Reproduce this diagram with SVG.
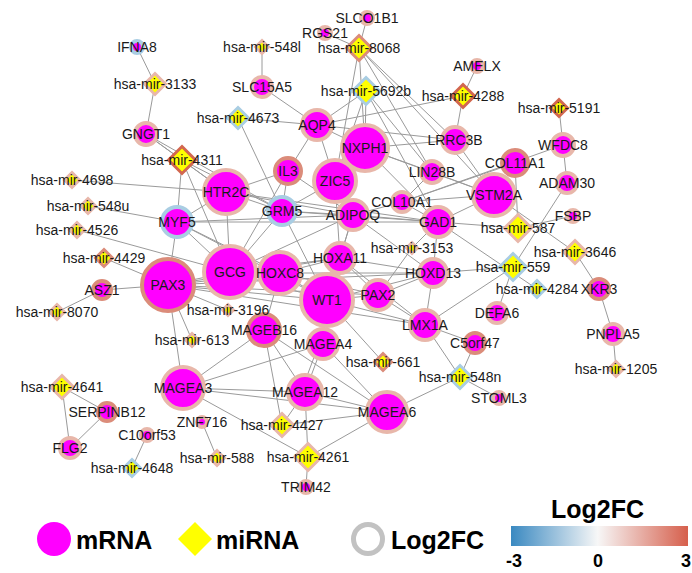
<svg xmlns="http://www.w3.org/2000/svg" width="692" height="573" viewBox="0 0 692 573">
<defs>
<style>
.e line{stroke:#9a9a9a;stroke-width:1}
.m{fill:#ff00ff;stroke-width:4}
.r{fill:#ffff00;stroke-width:3}
.bp{stroke:#e8b7aa}
.bs{stroke:#db8c7a}
.bd{stroke:#d2674f}
.bb{stroke:#a9cde3}
text{font-family:"Liberation Sans",Arial,sans-serif;font-size:14px;fill:#1a1a1a;text-anchor:middle}
.lg{font-size:25px;font-weight:bold;fill:#000;text-anchor:start}
.tk{font-size:18px;font-weight:bold;fill:#000}
</style>
<linearGradient id="grad" x1="0" y1="0" x2="1" y2="0">
<stop offset="0" stop-color="#3a89c1"/>
<stop offset="0.49" stop-color="#f7f7f7"/>
<stop offset="1" stop-color="#d65f4c"/>
</linearGradient>
</defs>
<rect width="692" height="573" fill="#fff"/>
<g id="edges" class="e">
<line x1="137" y1="47" x2="155" y2="84"/>
<line x1="155" y1="84" x2="146" y2="134"/>
<line x1="262" y1="47" x2="262" y2="87"/>
<line x1="262" y1="87" x2="317" y2="125"/>
<line x1="325" y1="33" x2="359" y2="48"/>
<line x1="367" y1="18" x2="359" y2="48"/>
<line x1="477" y1="66" x2="463" y2="96"/>
<line x1="559" y1="108" x2="563" y2="145"/>
<line x1="563" y1="145" x2="567" y2="183"/>
<line x1="402" y1="202" x2="563" y2="145"/>
<line x1="567" y1="183" x2="513" y2="267"/>
<line x1="515" y1="163" x2="518" y2="228"/>
<line x1="518" y1="228" x2="573" y2="216"/>
<line x1="494" y1="195" x2="575" y2="252"/>
<line x1="575" y1="252" x2="599" y2="289"/>
<line x1="599" y1="289" x2="613" y2="334"/>
<line x1="613" y1="334" x2="616" y2="369"/>
<line x1="513" y1="267" x2="433" y2="273"/>
<line x1="513" y1="267" x2="497" y2="313"/>
<line x1="513" y1="267" x2="425" y2="325"/>
<line x1="438" y1="222" x2="537" y2="289"/>
<line x1="438" y1="222" x2="518" y2="228"/>
<line x1="460" y1="377" x2="499" y2="398"/>
<line x1="460" y1="377" x2="387" y2="412"/>
<line x1="460" y1="377" x2="475" y2="343"/>
<line x1="460" y1="377" x2="425" y2="325"/>
<line x1="62" y1="387" x2="107" y2="412"/>
<line x1="62" y1="387" x2="70" y2="448"/>
<line x1="107" y1="412" x2="70" y2="448"/>
<line x1="147" y1="435" x2="132" y2="468"/>
<line x1="202" y1="422" x2="217" y2="458"/>
<line x1="308" y1="457" x2="306" y2="487"/>
<line x1="57" y1="312" x2="102" y2="290"/>
<line x1="102" y1="290" x2="168" y2="285"/>
<line x1="168" y1="285" x2="183" y2="388"/>
<line x1="183" y1="388" x2="264" y2="330"/>
<line x1="183" y1="388" x2="323" y2="344"/>
<line x1="183" y1="388" x2="305" y2="392"/>
<line x1="183" y1="388" x2="387" y2="412"/>
<line x1="183" y1="388" x2="308" y2="457"/>
<line x1="308" y1="457" x2="387" y2="412"/>
<line x1="308" y1="457" x2="305" y2="392"/>
<line x1="282" y1="425" x2="305" y2="392"/>
<line x1="282" y1="425" x2="387" y2="412"/>
<line x1="282" y1="425" x2="264" y2="330"/>
<line x1="323" y1="344" x2="387" y2="412"/>
<line x1="323" y1="344" x2="305" y2="392"/>
<line x1="319" y1="344" x2="301" y2="392"/>
<line x1="264" y1="330" x2="387" y2="412"/>
<line x1="264" y1="330" x2="305" y2="392"/>
<line x1="305" y1="392" x2="387" y2="412"/>
<line x1="327" y1="300" x2="383" y2="362"/>
<line x1="182" y1="160" x2="146" y2="134"/>
<line x1="146" y1="134" x2="226" y2="192"/>
<line x1="146" y1="134" x2="282" y2="211"/>
<line x1="182" y1="160" x2="226" y2="192"/>
<line x1="182" y1="160" x2="282" y2="211"/>
<line x1="182" y1="160" x2="177" y2="222"/>
<line x1="182" y1="160" x2="230" y2="272"/>
<line x1="72" y1="180" x2="226" y2="192"/>
<line x1="88" y1="206" x2="177" y2="222"/>
<line x1="77" y1="230" x2="230" y2="272"/>
<line x1="104" y1="258" x2="168" y2="285"/>
<line x1="238" y1="118" x2="317" y2="125"/>
<line x1="238" y1="118" x2="282" y2="211"/>
<line x1="359" y1="48" x2="365" y2="148"/>
<line x1="359" y1="48" x2="335" y2="181"/>
<line x1="359" y1="48" x2="432" y2="172"/>
<line x1="359" y1="48" x2="455" y2="140"/>
<line x1="359" y1="48" x2="494" y2="195"/>
<line x1="366" y1="91" x2="317" y2="125"/>
<line x1="366" y1="91" x2="365" y2="148"/>
<line x1="366" y1="91" x2="432" y2="172"/>
<line x1="366" y1="91" x2="335" y2="181"/>
<line x1="366" y1="91" x2="438" y2="222"/>
<line x1="463" y1="96" x2="317" y2="125"/>
<line x1="463" y1="96" x2="455" y2="140"/>
<line x1="317" y1="125" x2="288" y2="171"/>
<line x1="317" y1="125" x2="335" y2="181"/>
<line x1="317" y1="125" x2="365" y2="148"/>
<line x1="317" y1="125" x2="455" y2="140"/>
<line x1="365" y1="148" x2="432" y2="172"/>
<line x1="365" y1="148" x2="455" y2="140"/>
<line x1="365" y1="148" x2="494" y2="195"/>
<line x1="365" y1="148" x2="438" y2="222"/>
<line x1="455" y1="140" x2="494" y2="195"/>
<line x1="432" y1="172" x2="494" y2="195"/>
<line x1="432" y1="172" x2="402" y2="202"/>
<line x1="288" y1="171" x2="226" y2="192"/>
<line x1="288" y1="171" x2="282" y2="211"/>
<line x1="288" y1="171" x2="230" y2="272"/>
<line x1="288" y1="171" x2="353" y2="215"/>
<line x1="335" y1="181" x2="282" y2="211"/>
<line x1="335" y1="181" x2="353" y2="215"/>
<line x1="335" y1="181" x2="340" y2="258"/>
<line x1="226" y1="192" x2="282" y2="211"/>
<line x1="226" y1="192" x2="177" y2="222"/>
<line x1="226" y1="192" x2="230" y2="272"/>
<line x1="226" y1="192" x2="353" y2="215"/>
<line x1="226" y1="192" x2="438" y2="222"/>
<line x1="282" y1="211" x2="438" y2="222"/>
<line x1="282" y1="211" x2="353" y2="215"/>
<line x1="282" y1="211" x2="230" y2="272"/>
<line x1="282" y1="211" x2="327" y2="300"/>
<line x1="177" y1="222" x2="230" y2="272"/>
<line x1="177" y1="222" x2="168" y2="285"/>
<line x1="177" y1="222" x2="280" y2="273"/>
<line x1="177" y1="222" x2="327" y2="300"/>
<line x1="177" y1="222" x2="353" y2="215"/>
<line x1="177" y1="222" x2="438" y2="222"/>
<line x1="230" y1="272" x2="168" y2="285"/>
<line x1="230" y1="272" x2="280" y2="273"/>
<line x1="230" y1="272" x2="327" y2="300"/>
<line x1="230" y1="272" x2="353" y2="215"/>
<line x1="230" y1="272" x2="340" y2="258"/>
<line x1="168" y1="285" x2="280" y2="273"/>
<line x1="168" y1="285" x2="327" y2="300"/>
<line x1="168" y1="285" x2="378" y2="295"/>
<line x1="168" y1="285" x2="340" y2="258"/>
<line x1="168" y1="285" x2="425" y2="325"/>
<line x1="168" y1="285" x2="433" y2="273"/>
<line x1="168" y1="285" x2="228" y2="310"/>
<line x1="280" y1="273" x2="340" y2="258"/>
<line x1="280" y1="273" x2="378" y2="295"/>
<line x1="280" y1="273" x2="433" y2="273"/>
<line x1="280" y1="273" x2="327" y2="300"/>
<line x1="327" y1="300" x2="378" y2="295"/>
<line x1="327" y1="300" x2="340" y2="258"/>
<line x1="327" y1="300" x2="425" y2="325"/>
<line x1="327" y1="300" x2="433" y2="273"/>
<line x1="327" y1="300" x2="353" y2="215"/>
<line x1="340" y1="258" x2="378" y2="295"/>
<line x1="340" y1="258" x2="433" y2="273"/>
<line x1="340" y1="258" x2="425" y2="325"/>
<line x1="340" y1="258" x2="353" y2="215"/>
<line x1="378" y1="295" x2="425" y2="325"/>
<line x1="378" y1="295" x2="433" y2="273"/>
<line x1="433" y1="273" x2="425" y2="325"/>
<line x1="353" y1="215" x2="438" y2="222"/>
<line x1="353" y1="215" x2="402" y2="202"/>
<line x1="402" y1="202" x2="438" y2="222"/>
<line x1="402" y1="202" x2="515" y2="163"/>
<line x1="438" y1="222" x2="494" y2="195"/>
<line x1="438" y1="222" x2="412" y2="248"/>
<line x1="412" y1="248" x2="378" y2="295"/>
<line x1="425" y1="325" x2="475" y2="343"/>
<line x1="192" y1="340" x2="168" y2="285"/>
<line x1="264" y1="330" x2="280" y2="273"/>
<line x1="323" y1="344" x2="327" y2="300"/>
<line x1="402" y1="202" x2="494" y2="195"/>
<line x1="353" y1="215" x2="433" y2="273"/>
<line x1="438" y1="222" x2="433" y2="273"/>
</g>
<g id="IFNA8"><circle class="m bb" cx="137" cy="47" r="6"/><text x="137" y="52">IFNA8</text></g>
<g id="GNGT1"><circle class="m bp" cx="146" cy="134" r="11"/><text x="146" y="139">GNGT1</text></g>
<g id="SLCO1B1"><circle class="m bp" cx="367" cy="18" r="6"/><text x="367" y="23">SLCO1B1</text></g>
<g id="RGS21"><circle class="m bp" cx="325" cy="33" r="6"/><text x="325" y="38">RGS21</text></g>
<g id="SLC15A5"><circle class="m bp" cx="262" cy="87" r="10"/><text x="262" y="92">SLC15A5</text></g>
<g id="AMELX"><circle class="m bp" cx="477" cy="66" r="6"/><text x="477" y="71">AMELX</text></g>
<g id="WFDC8"><circle class="m bp" cx="563" cy="145" r="11"/><text x="563" y="150">WFDC8</text></g>
<g id="COL11A1"><circle class="m bs" cx="515" cy="163" r="13"/><text x="515" y="168">COL11A1</text></g>
<g id="ADAM30"><circle class="m bp" cx="567" cy="183" r="10"/><text x="567" y="188">ADAM30</text></g>
<g id="FSBP"><circle class="m bp" cx="573" cy="216" r="6"/><text x="573" y="221">FSBP</text></g>
<g id="AQP4"><circle class="m bp" cx="317" cy="125" r="15"/><text x="317" y="130">AQP4</text></g>
<g id="LRRC3B"><circle class="m bp" cx="455" cy="140" r="13"/><text x="455" y="145">LRRC3B</text></g>
<g id="NXPH1"><circle class="m bp" cx="365" cy="148" r="23"/><text x="365" y="153">NXPH1</text></g>
<g id="LIN28B"><circle class="m bp" cx="432" cy="172" r="11"/><text x="432" y="177">LIN28B</text></g>
<g id="IL3"><circle class="m bs" cx="288" cy="171" r="13"/><text x="288" y="176">IL3</text></g>
<g id="ZIC5"><circle class="m bp" cx="335" cy="181" r="21"/><text x="335" y="186">ZIC5</text></g>
<g id="HTR2C"><circle class="m bp" cx="226" cy="192" r="22"/><text x="226" y="197">HTR2C</text></g>
<g id="VSTM2A"><circle class="m bp" cx="494" cy="195" r="21"/><text x="494" y="200">VSTM2A</text></g>
<g id="COL10A1"><circle class="m bp" cx="402" cy="202" r="10"/><text x="402" y="207">COL10A1</text></g>
<g id="GRM5"><circle class="m bb" cx="282" cy="211" r="14"/><text x="282" y="216">GRM5</text></g>
<g id="MYF5"><circle class="m bb" cx="177" cy="222" r="15"/><text x="177" y="227">MYF5</text></g>
<g id="ADIPOQ"><circle class="m bp" cx="353" cy="215" r="15"/><text x="353" y="220">ADIPOQ</text></g>
<g id="GAD1"><circle class="m bp" cx="438" cy="222" r="15"/><text x="438" y="227">GAD1</text></g>
<g id="HOXA11"><circle class="m bp" cx="340" cy="258" r="15"/><text x="340" y="263">HOXA11</text></g>
<g id="HOXD13"><circle class="m bp" cx="433" cy="273" r="14"/><text x="433" y="278">HOXD13</text></g>
<g id="GCG"><circle class="m bp" cx="230" cy="272" r="26"/><text x="230" y="277">GCG</text></g>
<g id="HOXC8"><circle class="m bp" cx="280" cy="273" r="21"/><text x="280" y="278">HOXC8</text></g>
<g id="PAX3"><circle class="m bs" cx="168" cy="285" r="26"/><text x="168" y="290">PAX3</text></g>
<g id="ASZ1"><circle class="m bs" cx="102" cy="290" r="9"/><text x="102" y="295">ASZ1</text></g>
<g id="WT1"><circle class="m bp" cx="327" cy="300" r="26"/><text x="327" y="305">WT1</text></g>
<g id="PAX2"><circle class="m bp" cx="378" cy="295" r="15"/><text x="378" y="300">PAX2</text></g>
<g id="LMX1A"><circle class="m bp" cx="425" cy="325" r="15"/><text x="425" y="330">LMX1A</text></g>
<g id="DEFA6"><circle class="m bp" cx="497" cy="313" r="10"/><text x="497" y="318">DEFA6</text></g>
<g id="XKR3"><circle class="m bs" cx="599" cy="289" r="10"/><text x="599" y="294">XKR3</text></g>
<g id="PNPLA5"><circle class="m bp" cx="613" cy="334" r="10"/><text x="613" y="339">PNPLA5</text></g>
<g id="C5orf47"><circle class="m bs" cx="475" cy="343" r="10"/><text x="475" y="348">C5orf47</text></g>
<g id="STOML3"><circle class="m bp" cx="499" cy="398" r="6"/><text x="499" y="403">STOML3</text></g>
<g id="MAGEB16"><circle class="m bs" cx="264" cy="330" r="16"/><text x="264" y="335">MAGEB16</text></g>
<g id="MAGEA4"><circle class="m bp" cx="323" cy="344" r="15"/><text x="323" y="349">MAGEA4</text></g>
<g id="MAGEA12"><circle class="m bp" cx="305" cy="392" r="17"/><text x="305" y="397">MAGEA12</text></g>
<g id="MAGEA6"><circle class="m bp" cx="387" cy="412" r="20"/><text x="387" y="417">MAGEA6</text></g>
<g id="MAGEA3"><circle class="m bp" cx="183" cy="388" r="21"/><text x="183" y="393">MAGEA3</text></g>
<g id="SERPINB12"><circle class="m bs" cx="107" cy="412" r="9"/><text x="107" y="417">SERPINB12</text></g>
<g id="ZNF716"><circle class="m bp" cx="202" cy="422" r="5"/><text x="202" y="427">ZNF716</text></g>
<g id="C10orf53"><circle class="m bp" cx="147" cy="435" r="6"/><text x="147" y="440">C10orf53</text></g>
<g id="FLG2"><circle class="m bp" cx="70" cy="448" r="10"/><text x="70" y="453">FLG2</text></g>
<g id="TRIM42"><circle class="m bp" cx="306" cy="487" r="6"/><text x="306" y="492">TRIM42</text></g>
<g id="hsa-mir-3133"><polygon class="r bp" points="155,73.5 165.5,84 155,94.5 144.5,84"/><text x="155" y="89">hsa-mir-3133</text></g>
<g id="hsa-mir-548l"><polygon class="r bp" points="262,40.5 268.5,47 262,53.5 255.5,47"/><text x="262" y="52">hsa-mir-548l</text></g>
<g id="hsa-mir-8068"><polygon class="r bs" points="359,35.5 371.5,48 359,60.5 346.5,48"/><text x="359" y="53">hsa-mir-8068</text></g>
<g id="hsa-mir-5692b"><polygon class="r bb" points="366,77.5 379.5,91 366,104.5 352.5,91"/><text x="366" y="96">hsa-mir-5692b</text></g>
<g id="hsa-mir-4673"><polygon class="r bb" points="238,107.5 248.5,118 238,128.5 227.5,118"/><text x="238" y="123">hsa-mir-4673</text></g>
<g id="hsa-mir-4288"><polygon class="r bd" points="463,84.5 474.5,96 463,107.5 451.5,96"/><text x="463" y="101">hsa-mir-4288</text></g>
<g id="hsa-mir-5191"><polygon class="r bd" points="559,99.5 567.5,108 559,116.5 550.5,108"/><text x="559" y="113">hsa-mir-5191</text></g>
<g id="hsa-mir-4311"><polygon class="r bd" points="182,146.5 195.5,160 182,173.5 168.5,160"/><text x="182" y="165">hsa-mir-4311</text></g>
<g id="hsa-mir-4698"><polygon class="r bp" points="72,172.5 79.5,180 72,187.5 64.5,180"/><text x="72" y="185">hsa-mir-4698</text></g>
<g id="hsa-mir-548u"><polygon class="r bp" points="88,198.5 95.5,206 88,213.5 80.5,206"/><text x="88" y="211">hsa-mir-548u</text></g>
<g id="hsa-mir-4526"><polygon class="r bp" points="77,222.5 84.5,230 77,237.5 69.5,230"/><text x="77" y="235">hsa-mir-4526</text></g>
<g id="hsa-mir-4429"><polygon class="r bs" points="104,249.5 112.5,258 104,266.5 95.5,258"/><text x="104" y="263">hsa-mir-4429</text></g>
<g id="hsa-mir-8070"><polygon class="r bp" points="57,304.5 64.5,312 57,319.5 49.5,312"/><text x="57" y="317">hsa-mir-8070</text></g>
<g id="hsa-mir-3196"><polygon class="r bp" points="228,304.5 233.5,310 228,315.5 222.5,310"/><text x="228" y="315">hsa-mir-3196</text></g>
<g id="hsa-mir-613"><polygon class="r bp" points="192,333.5 198.5,340 192,346.5 185.5,340"/><text x="192" y="345">hsa-mir-613</text></g>
<g id="hsa-mir-3153"><polygon class="r bp" points="412,242.5 417.5,248 412,253.5 406.5,248"/><text x="412" y="253">hsa-mir-3153</text></g>
<g id="hsa-mir-587"><polygon class="r bp" points="518,214.5 531.5,228 518,241.5 504.5,228"/><text x="518" y="233">hsa-mir-587</text></g>
<g id="hsa-mir-3646"><polygon class="r bp" points="575,240.5 586.5,252 575,263.5 563.5,252"/><text x="575" y="257">hsa-mir-3646</text></g>
<g id="hsa-mir-559"><polygon class="r bb" points="513,253.5 526.5,267 513,280.5 499.5,267"/><text x="513" y="272">hsa-mir-559</text></g>
<g id="hsa-mir-4284"><polygon class="r bb" points="537,280.5 545.5,289 537,297.5 528.5,289"/><text x="537" y="294">hsa-mir-4284</text></g>
<g id="hsa-mir-661"><polygon class="r bs" points="383,353.5 391.5,362 383,370.5 374.5,362"/><text x="383" y="367">hsa-mir-661</text></g>
<g id="hsa-mir-548n"><polygon class="r bb" points="460,365.5 471.5,377 460,388.5 448.5,377"/><text x="460" y="382">hsa-mir-548n</text></g>
<g id="hsa-mir-1205"><polygon class="r bp" points="616,361.5 623.5,369 616,376.5 608.5,369"/><text x="616" y="374">hsa-mir-1205</text></g>
<g id="hsa-mir-4641"><polygon class="r bp" points="62,375.5 73.5,387 62,398.5 50.5,387"/><text x="62" y="392">hsa-mir-4641</text></g>
<g id="hsa-mir-4648"><polygon class="r bb" points="132,459.5 140.5,468 132,476.5 123.5,468"/><text x="132" y="473">hsa-mir-4648</text></g>
<g id="hsa-mir-588"><polygon class="r bp" points="217,450.5 224.5,458 217,465.5 209.5,458"/><text x="217" y="463">hsa-mir-588</text></g>
<g id="hsa-mir-4427"><polygon class="r bp" points="282,413.5 293.5,425 282,436.5 270.5,425"/><text x="282" y="430">hsa-mir-4427</text></g>
<g id="hsa-mir-4261"><polygon class="r bp" points="308,443.5 321.5,457 308,470.5 294.5,457"/><text x="308" y="462">hsa-mir-4261</text></g>
<g id="legend">
<circle cx="54" cy="539" r="17" fill="#ff00ff"/>
<text class="lg" x="76" y="549">mRNA</text>
<polygon points="195,522 212,539 195,556 178,539" fill="#ffff00"/>
<text class="lg" x="216" y="549">miRNA</text>
<circle cx="368" cy="539" r="14.5" fill="none" stroke="#c2c2c2" stroke-width="5"/>
<text class="lg" x="391" y="549">Log2FC</text>
<text class="lg" x="551" y="518">Log2FC</text>
<rect x="511" y="526" width="177" height="20" fill="url(#grad)"/>
<text class="tk" x="514" y="567">-3</text>
<text class="tk" x="598" y="567">0</text>
<text class="tk" x="686" y="567">3</text>
</g>
</svg>
